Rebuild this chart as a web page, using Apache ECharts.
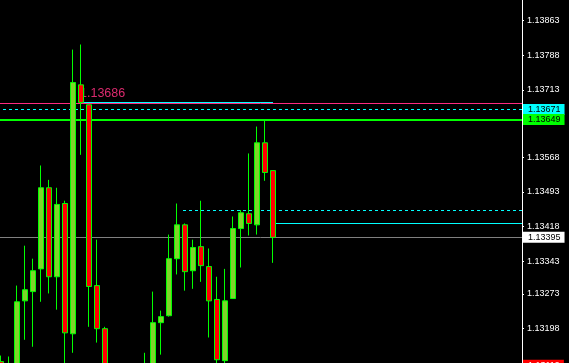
<!DOCTYPE html>
<html><head><meta charset="utf-8">
<script src="https://cdn.jsdelivr.net/npm/echarts@6/dist/echarts.min.js"></script>
<style>html,body{margin:0;padding:0;background:#000}#c{width:569px;height:363px}</style>
</head><body><div id="c"></div>
<script>
// bar position (index of the bar slot), open, close, low, high
const barIndex = [0,1,2,3,4,5,6,7,8,9,10,11,12,13,18,19,20,21,22,23,24,25,26,27,28,29,30,31,32,33,34];
const opens  = [1.13127,1.13112,1.13115,1.13258,1.13278,1.13327,1.13502,1.13310,1.13468,1.13187,1.13724,1.13681,1.13291,1.13198,1.13105,1.13110,1.13211,1.13226,1.13349,1.13422,1.13323,1.13375,1.13332,1.13261,1.13129,1.13263,1.13414,1.13446,1.13422,1.13599,1.13539];
const closes = [1.13105,1.13120,1.13256,1.13282,1.13323,1.13502,1.13310,1.13466,1.13189,1.13729,1.13686,1.13289,1.13198,1.13110,1.13118,1.13211,1.13224,1.13349,1.13422,1.13321,1.13373,1.13334,1.13258,1.13131,1.13258,1.13414,1.13448,1.13425,1.13599,1.13535,1.13395];
const lows   = [1.13090,1.13080,1.13100,1.13174,1.13159,1.13256,1.13274,1.13239,1.13110,1.13146,1.13573,1.13202,1.13168,1.13090,1.13090,1.13090,1.13142,1.13224,1.13315,1.13280,1.13284,1.13299,1.13179,1.13115,1.13110,1.13262,1.13330,1.13399,1.13401,1.13517,1.13340];
const highs  = [1.13140,1.13138,1.13291,1.13377,1.13349,1.13550,1.13519,1.13502,1.13474,1.13800,1.13811,1.13681,1.13390,1.13202,1.13146,1.13278,1.13237,1.13401,1.13468,1.13425,1.13390,1.13474,1.13371,1.13310,1.13327,1.13440,1.13454,1.13576,1.13634,1.13649,1.13539];

// price scale tick labels
const tickValues = [1.13863,1.13788,1.13713,1.13643,1.13568,1.13493,1.13418,1.13343,1.13273,1.13198];

// horizontal levels
const trendLevel = 1.13684;      // magenta line
const trendSegLevel = 1.13686;   // cyan segment + text
const askLevel = 1.13671;        // cyan dashed, cyan box
const greenLevel = 1.13649;      // thick green, green box
const dashLevel2 = 1.13453;      // cyan dashed partial
const cyanLevel2 = 1.13425;      // cyan solid partial
const bidLevel = 1.13395;        // gray, white box
const redLevel = 1.13119;        // red box at the bottom
const xStart = -0.5, segStart = 10.125, segEnd = 34, dash2Start = 22.75, cyan2Start = 34.375, xEnd = 65.125;

const candleData = barIndex.map((x, i) => [x, opens[i], closes[i], lows[i], highs[i]]);

const boxLabel = (bg, fg, v) => ({
  show: true, position: 'end', distance: 1,
  backgroundColor: bg, color: fg, padding: [1, 4, 1, 5],
  fontFamily: 'Liberation Sans', fontSize: 9, lineHeight: 9,
  formatter: v.toFixed(5)
});
const hline = (x0, x1, v, lineStyle, label) => [
  { coord: [x0, v], lineStyle: lineStyle, label: label || { show: false } },
  { coord: [x1, v] }
];

const chart = echarts.init(document.getElementById('c'));
chart.setOption({
  backgroundColor: '#000',
  animation: false,
  grid: { left: -3, right: 47, top: 0, bottom: -10, outerBoundsMode: 'none', containLabel: false },
  xAxis: { type: 'value', min: xStart, max: xEnd, show: false },
  yAxis: {
    type: 'value', position: 'right', min: 1.131024, max: 1.13907, scale: true,
    splitLine: { show: false },
    axisLine: { show: true, onZero: false, lineStyle: { color: '#fff', width: 1 } },
    axisTick: { show: true, length: 2, customValues: tickValues, lineStyle: { color: '#fff' } },
    axisLabel: {
      customValues: tickValues, color: '#fff', margin: 5,
      fontFamily: 'Liberation Sans', fontSize: 9,
      formatter: v => v.toFixed(5)
    }
  },
  series: [{
    type: 'candlestick',
    data: candleData,
    encode: { x: 0, y: [1, 2, 3, 4] },
    barWidth: 5,
    z: 2,
    itemStyle: {
      color: '#80d42a', color0: '#ff0000',
      borderColor: '#00ff00', borderColor0: '#00ff00', borderWidth: 1
    },
    markLine: {
      silent: true, z: 1, symbol: ['none', 'none'], animation: false,
      label: { show: false },
      data: [
        hline(xStart, xEnd, trendLevel, { color: '#ff2a80', width: 1, type: 'solid' }),
        hline(segStart, segEnd, trendSegLevel, { color: '#00ffff', width: 1, type: 'solid' },
          { show: true, position: 'insideStartTop', distance: [-2, 2], formatter: '1.13686',
            color: '#dc2a6e', fontFamily: 'Liberation Sans', fontSize: 12.5 }),
        hline(xStart, xEnd, askLevel, { color: '#00ffff', width: 1, type: [3, 3] }, boxLabel('#00ffff', '#000', askLevel)),
        hline(dash2Start, xEnd, dashLevel2, { color: '#00ffff', width: 1, type: [3, 3] }),
        hline(cyan2Start, xEnd, cyanLevel2, { color: '#00ffff', width: 1, type: 'solid' }),
        hline(xStart, xEnd, bidLevel, { color: '#808080', width: 1, type: 'solid' }, boxLabel('#ffffff', '#000', bidLevel)),
        hline(xStart, xEnd, greenLevel, { color: '#00ff00', width: 2, type: 'solid' }, boxLabel('#00ff00', '#000', greenLevel)),
        hline(xStart, xEnd, redLevel, { color: '#ff0000', width: 1, type: 'solid' }, boxLabel('#ff0000', '#fff', redLevel))
      ]
    }
  }]
});
</script></body></html>
